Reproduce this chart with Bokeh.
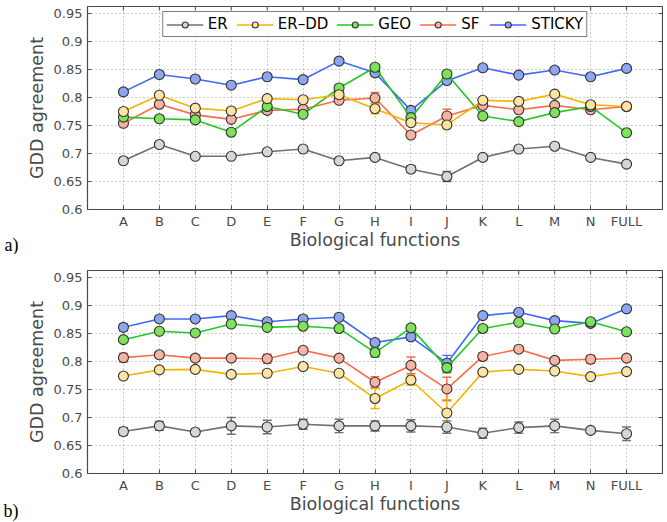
import numpy as np
from bokeh.plotting import figure
from bokeh.layouts import column
from bokeh.models import (FixedTicker, Range1d, Legend, LegendItem, Label)
from bokeh.embed import file_html
from bokeh.resources import INLINE

categories = ["A", "B", "C", "D", "E", "F", "G", "H", "I", "J", "K", "L", "M", "N", "FULL"]
series_names = ["ER", "ER\u2013DD", "GEO", "SF", "STICKY"]
y_ticks = [0.6, 0.65, 0.7, 0.75, 0.8, 0.85, 0.9, 0.95]
y_tick_labels = ["0.6", "0.65", "0.7", "0.75", "0.8", "0.85", "0.9", "0.95"]

# panel a)
a_er = [0.687, 0.716, 0.695, 0.695, 0.703, 0.708, 0.687, 0.693, 0.672, 0.659, 0.693, 0.708, 0.713, 0.693, 0.681]
a_er_err = [0.003, 0.003, 0.003, 0.003, 0.003, 0.003, 0.003, 0.004, 0.006, 0.009, 0.003, 0.003, 0.003, 0.003, 0.003]
a_erdd = [0.775, 0.804, 0.781, 0.776, 0.798, 0.796, 0.805, 0.780, 0.755, 0.751, 0.795, 0.793, 0.806, 0.787, 0.784]
a_erdd_err = [0.003, 0.003, 0.003, 0.003, 0.003, 0.003, 0.004, 0.009, 0.004, 0.007, 0.003, 0.003, 0.003, 0.003, 0.002]
a_geo = [0.765, 0.762, 0.760, 0.738, 0.784, 0.770, 0.817, 0.854, 0.764, 0.842, 0.767, 0.757, 0.773, 0.784, 0.737]
a_geo_err = [0.003, 0.003, 0.003, 0.004, 0.004, 0.004, 0.005, 0.004, 0.004, 0.005, 0.003, 0.003, 0.003, 0.003, 0.002]
a_sf = [0.754, 0.788, 0.769, 0.761, 0.777, 0.779, 0.795, 0.799, 0.733, 0.767, 0.786, 0.778, 0.786, 0.778, 0.784]
a_sf_err = [0.003, 0.003, 0.003, 0.003, 0.003, 0.003, 0.003, 0.010, 0.003, 0.012, 0.003, 0.003, 0.003, 0.003, 0.002]
a_sticky = [0.810, 0.841, 0.833, 0.822, 0.837, 0.832, 0.865, 0.844, 0.777, 0.830, 0.853, 0.840, 0.849, 0.837, 0.852]
a_sticky_err = [0.005, 0.004, 0.003, 0.003, 0.003, 0.004, 0.003, 0.004, 0.004, 0.004, 0.003, 0.003, 0.003, 0.004, 0.002]

# panel b)
b_er = [0.675, 0.685, 0.674, 0.685, 0.683, 0.688, 0.685, 0.685, 0.685, 0.683, 0.672, 0.682, 0.685, 0.677, 0.671]
b_er_err = [0.007, 0.008, 0.005, 0.015, 0.012, 0.009, 0.012, 0.009, 0.011, 0.011, 0.009, 0.010, 0.012, 0.005, 0.012]
b_erdd = [0.774, 0.785, 0.786, 0.777, 0.779, 0.791, 0.779, 0.734, 0.767, 0.708, 0.781, 0.786, 0.783, 0.773, 0.782]
b_erdd_err = [0.005, 0.003, 0.003, 0.003, 0.004, 0.003, 0.003, 0.018, 0.009, 0.024, 0.003, 0.003, 0.003, 0.003, 0.003]
b_geo = [0.839, 0.854, 0.851, 0.867, 0.861, 0.863, 0.859, 0.816, 0.860, 0.789, 0.859, 0.870, 0.858, 0.871, 0.853]
b_geo_err = [0.003, 0.003, 0.003, 0.003, 0.003, 0.003, 0.003, 0.008, 0.005, 0.009, 0.003, 0.003, 0.003, 0.003, 0.002]
b_sf = [0.807, 0.812, 0.806, 0.806, 0.805, 0.820, 0.806, 0.763, 0.793, 0.751, 0.809, 0.822, 0.802, 0.804, 0.806]
b_sf_err = [0.008, 0.006, 0.005, 0.005, 0.008, 0.004, 0.004, 0.010, 0.015, 0.021, 0.006, 0.004, 0.005, 0.007, 0.004]
b_sticky = [0.861, 0.876, 0.876, 0.882, 0.871, 0.876, 0.879, 0.834, 0.844, 0.797, 0.882, 0.888, 0.873, 0.868, 0.894]
b_sticky_err = [0.006, 0.003, 0.004, 0.003, 0.004, 0.005, 0.003, 0.004, 0.006, 0.014, 0.003, 0.004, 0.004, 0.003, 0.003]

line_colors = ["#707070", "#f4b400", "#22c922", "#ff6b47", "#3f68ff"]
fill_colors = ["#d6d6d6", "#fde4a4", "#7fe35a", "#f6b4a3", "#8da6ef"]

AXIS_FONT = "DejaVu Sans"
TEXT_COLOR = "#4a4a4a"
FRAME_COLOR = "#4a4a4a"
WIDTH = 663
LEFT = 87


def make_panel(vals, errs, tag, height, border_top, border_bottom, with_legend, tag_y):
    xs = list(range(1, len(categories) + 1))
    x_end = len(categories) + 1
    y_end = 0.9625
    p = figure(width=WIDTH, height=height, output_backend="svg", toolbar_location=None,
               x_range=Range1d(0, x_end), y_range=Range1d(0.6, y_end),
               min_border_left=LEFT, min_border_right=1, min_border_top=border_top,
               min_border_bottom=border_bottom)
    p.background_fill_color = "white"
    p.border_fill_color = "white"
    p.outline_line_color = FRAME_COLOR
    p.outline_line_width = 1.2

    xt = FixedTicker(ticks=xs)
    yt = FixedTicker(ticks=y_ticks)
    p.xaxis.ticker = xt
    p.yaxis.ticker = yt
    p.xaxis.major_label_overrides = {i + 1: c for i, c in enumerate(categories)}
    p.yaxis.major_label_overrides = {t: l for t, l in zip(y_ticks, y_tick_labels)}
    for ax in (p.xaxis[0], p.yaxis[0]):
        ax.major_tick_in = 4
        ax.major_tick_out = 0
        ax.minor_tick_line_color = None
        ax.axis_line_color = FRAME_COLOR
        ax.major_tick_line_color = FRAME_COLOR
        ax.major_label_text_font = AXIS_FONT
        ax.major_label_text_font_size = "13px"
        ax.major_label_text_color = TEXT_COLOR
        ax.axis_label_text_font = AXIS_FONT
        ax.axis_label_text_font_size = "17.5px"
        ax.axis_label_text_font_style = "normal"
        ax.axis_label_text_color = TEXT_COLOR
    p.xaxis.axis_label = "Biological functions"
    p.yaxis.axis_label = "GDD agreement"
    p.xaxis.major_label_standoff = 4
    p.xaxis.axis_label_standoff = -2
    p.yaxis.major_label_standoff = 5
    p.yaxis.axis_label_standoff = 4

    # inward ticks on the top and right edges of the box
    p.scatter(xs, [y_end] * len(xs), marker="dash", angle=np.pi / 2, size=8,
              line_color=FRAME_COLOR, line_width=1)
    p.scatter([x_end] * len(y_ticks), y_ticks, marker="dash", size=8,
              line_color=FRAME_COLOR, line_width=1)

    p.xgrid.ticker = xt
    p.ygrid.ticker = yt
    for g in (p.xgrid[0], p.ygrid[0]):
        g.grid_line_color = "#9a9a9a"
        g.grid_line_dash = "1 3"
        g.grid_line_width = 1

    items = {}
    for k in reversed(range(len(series_names))):
        v = np.array(vals[k])
        e = np.array(errs[k])
        lc, fc = line_colors[k], fill_colors[k]
        lr = p.line(xs, v, line_color=lc, line_width=1.6)
        p.segment(x0=xs, y0=v - e, x1=xs, y1=v + e, line_color=lc, line_width=1.4)
        p.scatter(xs, v - e, marker="dash", size=9, line_color=lc, line_width=1.4)
        p.scatter(xs, v + e, marker="dash", size=9, line_color=lc, line_width=1.4)
        sr = p.scatter(xs, v, size=10, fill_color=fc, line_color="#333333", line_width=1.1)
        items[k] = LegendItem(label=series_names[k], renderers=[lr, sr])

    if with_legend:
        leg = Legend(items=[items[k] for k in range(len(series_names))],
                     location="top_center", orientation="horizontal")
        leg.label_text_font = AXIS_FONT
        leg.label_text_font_size = "15px"
        leg.label_text_color = "black"
        leg.border_line_color = "black"
        leg.border_line_width = 1.5
        leg.background_fill_alpha = 1
        leg.glyph_width = 37
        leg.glyph_height = 15
        leg.label_height = 15
        leg.label_standoff = 5
        leg.spacing = 8
        leg.padding = 3
        leg.margin = 5
        p.add_layout(leg)

    # panel tag placed in a side panel so that it is not clipped to the frame
    p.add_layout(Label(x=-5, y=tag_y, x_units="screen", y_units="screen", text=tag,
                       text_font="Liberation Serif", text_font_size="18px",
                       text_color="black", text_baseline="middle"), "left")
    return p


top = make_panel([a_er, a_erdd, a_geo, a_sf, a_sticky],
                 [a_er_err, a_erdd_err, a_geo_err, a_sf_err, a_sticky_err],
                 "a)", 254, 6, 45, True, -35)
bot = make_panel([b_er, b_erdd, b_geo, b_sf, b_sticky],
                 [b_er_err, b_erdd_err, b_geo_err, b_sf_err, b_sticky_err],
                 "b)", 268, 16, 49, False, -37)

layout = column(top, bot, spacing=0)
open("out.html", "w").write(file_html(layout, INLINE))
